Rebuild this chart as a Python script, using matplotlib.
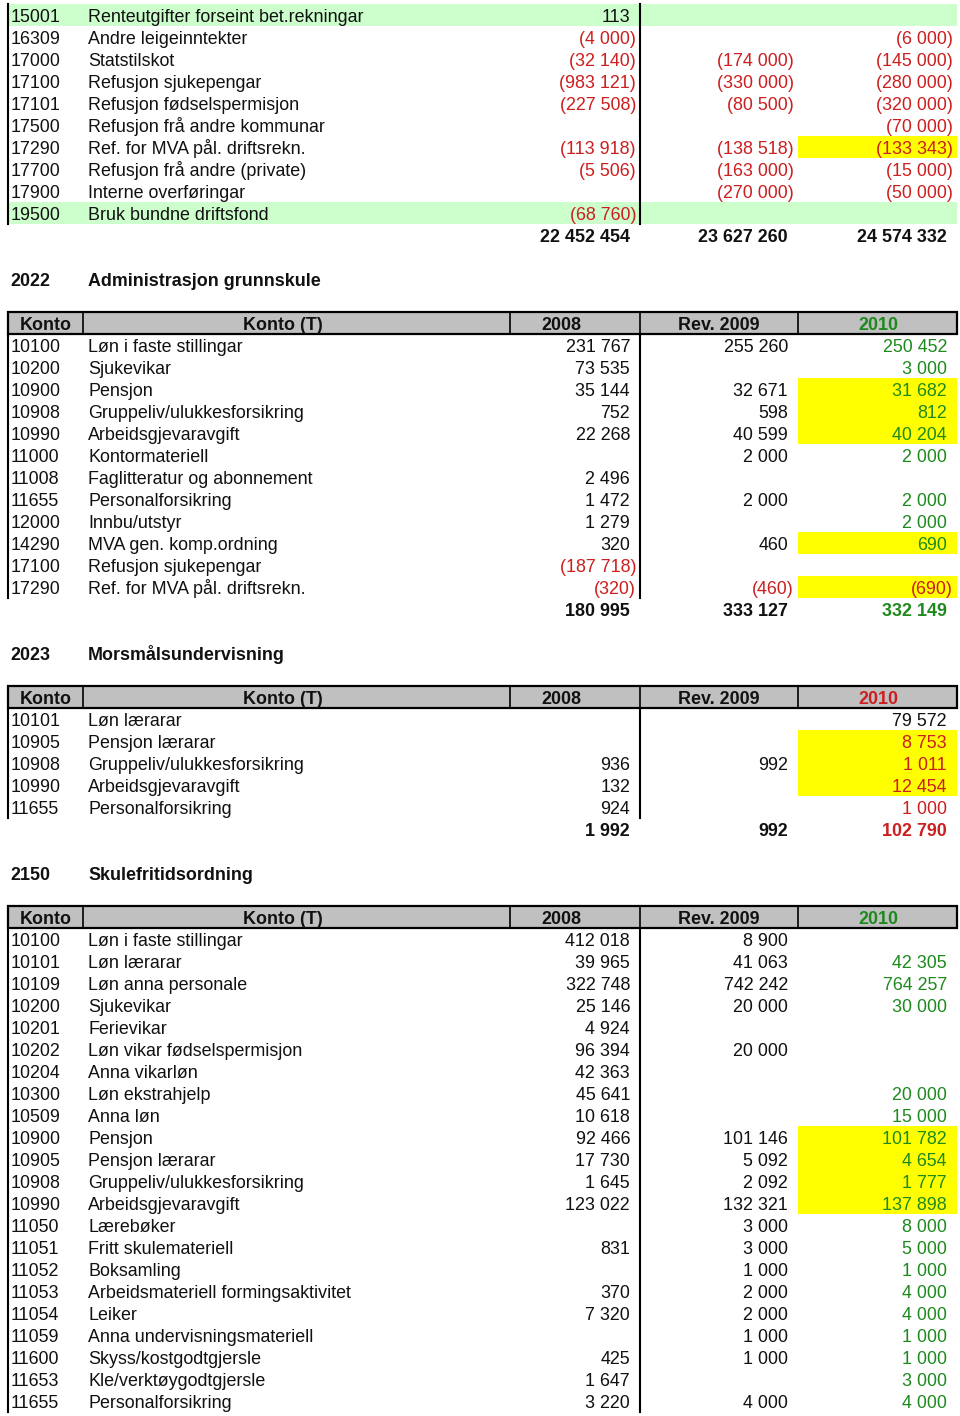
import matplotlib
matplotlib.use("Agg")
import matplotlib.pyplot as plt
from matplotlib.patches import Rectangle

plt.rcParams['font.family'] = ['Liberation Sans', 'DejaVu Sans']

# --- data -------------------------------------------------------------
top_konto = ["15001", "16309", "17000", "17100", "17101", "17500", "17290", "17700", "17900", "19500"]
top_names = ["Renteutgifter forseint bet.rekningar", "Andre leigeinntekter", "Statstilskot",
             "Refusjon sjukepengar", "Refusjon fødselspermisjon", "Refusjon frå andre kommunar",
             "Ref. for MVA pål. driftsrekn.", "Refusjon frå andre (private)", "Interne overføringar",
             "Bruk bundne driftsfond"]
top_2008 = [113, -4000, -32140, -983121, -227508, None, -113918, -5506, None, -68760]
top_2009 = [None, None, -174000, -330000, -80500, None, -138518, -163000, -270000, None]
top_2010 = [None, -6000, -145000, -280000, -320000, -70000, -133343, -15000, -50000, None]
top_totals = [22452454, 23627260, 24574332]

adm_konto = ["10100", "10200", "10900", "10908", "10990", "11000", "11008", "11655", "12000",
             "14290", "17100", "17290"]
adm_names = ["Løn i faste stillingar", "Sjukevikar", "Pensjon", "Gruppeliv/ulukkesforsikring",
             "Arbeidsgjevaravgift", "Kontormateriell", "Faglitteratur og abonnement",
             "Personalforsikring", "Innbu/utstyr", "MVA gen. komp.ordning", "Refusjon sjukepengar",
             "Ref. for MVA pål. driftsrekn."]
adm_2008 = [231767, 73535, 35144, 752, 22268, None, 2496, 1472, 1279, 320, -187718, -320]
adm_2009 = [255260, None, 32671, 598, 40599, 2000, None, 2000, None, 460, None, -460]
adm_2010 = [250452, 3000, 31682, 812, 40204, 2000, None, 2000, 2000, 690, None, -690]
adm_totals = [180995, 333127, 332149]

mor_konto = ["10101", "10905", "10908", "10990", "11655"]
mor_names = ["Løn lærarar", "Pensjon lærarar", "Gruppeliv/ulukkesforsikring",
             "Arbeidsgjevaravgift", "Personalforsikring"]
mor_2008 = [None, None, 936, 132, 924]
mor_2009 = [None, None, 992, None, None]
mor_2010 = [79572, 8753, 1011, 12454, 1000]
mor_totals = [1992, 992, 102790]

sfo_konto = ["10100", "10101", "10109", "10200", "10201", "10202", "10204", "10300", "10509",
             "10900", "10905", "10908", "10990", "11050", "11051", "11052", "11053", "11054",
             "11059", "11600", "11653", "11655"]
sfo_names = ["Løn i faste stillingar", "Løn lærarar", "Løn anna personale", "Sjukevikar",
             "Ferievikar", "Løn vikar fødselspermisjon", "Anna vikarløn", "Løn ekstrahjelp",
             "Anna løn", "Pensjon", "Pensjon lærarar", "Gruppeliv/ulukkesforsikring",
             "Arbeidsgjevaravgift", "Lærebøker", "Fritt skulemateriell", "Boksamling",
             "Arbeidsmateriell formingsaktivitet", "Leiker", "Anna undervisningsmateriell",
             "Skyss/kostgodtgjersle", "Kle/verktøygodtgjersle", "Personalforsikring"]
sfo_2008 = [412018, 39965, 322748, 25146, 4924, 96394, 42363, 45641, 10618, 92466, 17730,
            1645, 123022, None, 831, None, 370, 7320, None, 425, 1647, 3220]
sfo_2009 = [8900, 41063, 742242, 20000, None, 20000, None, None, None, 101146, 5092, 2092,
            132321, 3000, 3000, 1000, 2000, 2000, 1000, 1000, None, 4000]
sfo_2010 = [None, 42305, 764257, 30000, None, None, None, 20000, 15000, 101782, 4654, 1777,
            137898, 8000, 5000, 1000, 4000, 4000, 1000, 1000, 3000, 4000]

header = ["Konto", "Konto (T)", "2008", "Rev. 2009", "2010"]

# --- style ------------------------------------------------------------
RED = '#cc1f1f'
GREEN = '#1e8a1e'
BLACK = '#111111'
FS = 12.9
ROW = 22
BASE = 6.5  # baseline offset from row centre, px

col_edges = [8, 83, 510, 640, 798, 957]
right_pos = [630, 788, 947]
neg_pad = 6


def fmt(v):
    s = f"{abs(v):,}".replace(",", " ")
    return f"({s})" if v < 0 else s


fig = plt.figure(figsize=(9.6, 14.16), dpi=100)
ax = fig.add_axes([0, 0, 1, 1])
ax.set_xlim(0, 960)
ax.set_ylim(1416, 0)
ax.axis('off')


def txt(x, y, s, **kw):
    kw.setdefault('color', BLACK)
    ax.text(x, y + BASE, s, fontsize=FS, va='baseline', **kw)


def draw_rows(y0, konto, names, cols, col2010, green_rows=(), yellow=(), black2010=()):
    n = len(konto)
    for i in range(n):
        y = y0 + i * ROW
        if i in green_rows:
            ax.add_patch(Rectangle((8, y - ROW / 2), 949, ROW, color='#ccffcc', lw=0, zorder=0))
        if i in yellow:
            ax.add_patch(Rectangle((798, y - ROW / 2), 159, ROW, color='#ffff00', lw=0, zorder=0))
        txt(11, y, konto[i], ha='left')
        txt(88, y, names[i], ha='left')
        for j, vals in enumerate(cols):
            v = vals[i]
            if v is None:
                continue
            if v < 0:
                c = RED
            elif j == 2 and i not in black2010:
                c = col2010
            else:
                c = BLACK
            x = right_pos[j] + (neg_pad if v < 0 else 0)
            txt(x, y, fmt(v), ha='right', color=c)
    top = y0 - ROW / 2
    bottom = y0 + (n - 1) * ROW + ROW / 2
    ax.plot([8, 8], [top, bottom], color='black', lw=1.5)
    ax.plot([640, 640], [top, bottom], color='black', lw=1.5)
    return bottom


def draw_totals(y, totals, col2010):
    for j, v in enumerate(totals):
        c = col2010 if j == 2 else BLACK
        txt(right_pos[j], y, fmt(v), ha='right', color=c, fontweight='bold')


def draw_title(y, code, name):
    txt(10, y, code, ha='left', fontweight='bold')
    txt(88, y, name, ha='left', fontweight='bold')


def draw_header(y, col2010):
    ax.add_patch(Rectangle((8, y - 11), 949, 22, facecolor='#c0c0c0', edgecolor='black',
                           lw=1.6, zorder=1))
    for x in col_edges[1:-1]:
        ax.plot([x, x], [y - 11, y + 11], color='black', lw=1.2, zorder=2)
    centers = [46, 283, 561, 719, 878]
    for k, (cx, lab) in enumerate(zip(centers, header)):
        txt(cx, y, lab, ha='center', fontweight='bold',
            color=col2010 if k == 4 else BLACK, zorder=3)


# top (continued) section
draw_rows(15, top_konto, top_names, [top_2008, top_2009, top_2010], BLACK,
          green_rows=(0, 9), yellow=(6,))
draw_totals(235, top_totals, BLACK)

# 2022
draw_title(279, "2022", "Administrasjon grunnskule")
draw_header(323, GREEN)
draw_rows(345, adm_konto, adm_names, [adm_2008, adm_2009, adm_2010], GREEN,
          yellow=(2, 3, 4, 9, 11))
draw_totals(609, adm_totals, GREEN)

# 2023
draw_title(653, "2023", "Morsmålsundervisning")
draw_header(697, RED)
draw_rows(719, mor_konto, mor_names, [mor_2008, mor_2009, mor_2010], RED,
          yellow=(1, 2, 3), black2010=(0,))
draw_totals(829, mor_totals, RED)

# 2150
draw_title(873, "2150", "Skulefritidsordning")
draw_header(917, GREEN)
draw_rows(939, sfo_konto, sfo_names, [sfo_2008, sfo_2009, sfo_2010], GREEN,
          yellow=(9, 10, 11, 12))

fig.savefig("out.png", dpi=100, facecolor='white')
